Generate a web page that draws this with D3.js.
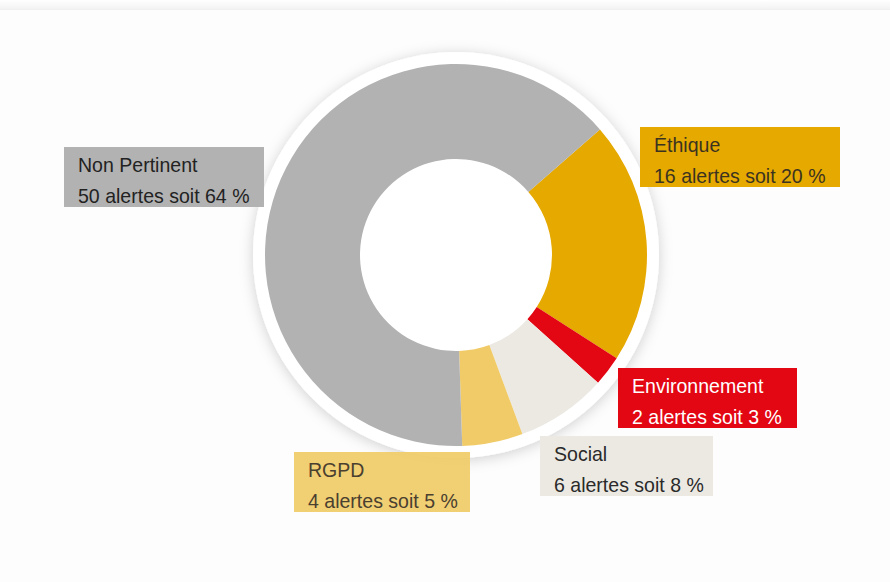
<!DOCTYPE html>
<html>
<head>
<meta charset="utf-8">
<script src="https://cdn.jsdelivr.net/npm/d3@7"></script>
<style>
  html, body { margin: 0; padding: 0; background: #fdfdfd; }
  #vis { width: 890px; height: 582px; }
  .lbl { font-family: "Liberation Sans Narrow", "Liberation Sans", Arial, sans-serif; font-size: 21px; }
</style>
</head>
<body>
<div id="vis"></div>
<script>
/* Data */
var categories = ["Éthique", "Environnement", "Social", "RGPD", "Non Pertinent"];
var alertes = [16, 2, 6, 4, 50];
var percents = [20, 3, 8, 5, 64];
var colors = ["#e6a900", "#e30613", "#ece9e3", "#f0cb68", "#b2b2b2"];
var textColors = ["#3b3320", "#ffffff", "#2a2a2a", "#4a4030", "#222222"];

/* label box layout (x, y of top-left, width) */
var boxes = [
    {x: 640, y: 127, w: 200},
    {x: 618, y: 368, w: 179},
    {x: 540, y: 436, w: 173},
    {x: 294, y: 452, w: 176},
    {x: 64, y: 147, w: 200}
];

var width = 890, height = 582,
    cx = 456, cy = 255,
    outer = 191, inner = 96, ring = 203;

var svg = d3.select('#vis').append('svg').attr('width', width).attr('height', height);

var defs = svg.append('defs');
var shadow = defs.append('filter').attr('id', 'shadow')
    .attr('x', '-20%').attr('y', '-20%').attr('width', '140%').attr('height', '140%');
shadow.append('feDropShadow')
    .attr('dx', 0).attr('dy', 2).attr('stdDeviation', 7)
    .attr('flood-color', '#000').attr('flood-opacity', 0.18);

var topGrad = defs.append('linearGradient').attr('id', 'topband')
    .attr('x1', 0).attr('y1', 0).attr('x2', 0).attr('y2', 1);
topGrad.append('stop').attr('offset', '0%').attr('stop-color', '#ffffff');
topGrad.append('stop').attr('offset', '100%').attr('stop-color', '#f3f3f3');

/* top band */
svg.append('rect').attr('x', 0).attr('y', 0).attr('width', width).attr('height', 9)
    .attr('fill', 'url(#topband)');
svg.append('rect').attr('x', 0).attr('y', 9).attr('width', width).attr('height', 1)
    .attr('fill', '#f0f0f0');

var chart = svg.append('g').attr('transform', 'translate(' + cx + ',' + cy + ')');

/* white ring with shadow */
chart.append('circle').attr('r', ring).attr('fill', '#ffffff').attr('filter', 'url(#shadow)');

var startAngle = 48.9 * Math.PI / 180;
var pie = d3.pie().sort(null)
    .startAngle(startAngle).endAngle(startAngle + 2 * Math.PI)
    .value(function (d) { return d; });
var arc = d3.arc().innerRadius(inner).outerRadius(outer);

chart.selectAll('path.slice')
    .data(pie(alertes))
    .enter().append('path')
    .attr('class', 'slice')
    .attr('d', arc)
    .attr('fill', function (d, i) { return colors[i]; });

/* labels */
var labels = svg.append('g').selectAll('g')
    .data(categories)
    .enter().append('g')
    .attr('transform', function (d, i) { return 'translate(' + boxes[i].x + ',' + boxes[i].y + ')'; });

labels.append('rect')
    .attr('width', function (d, i) { return boxes[i].w; })
    .attr('height', 60)
    .attr('fill', function (d, i) { return colors[i]; })
    .attr('fill-opacity', function (d, i) { return i === 3 ? 0.93 : 1; });

labels.append('text').attr('class', 'lbl')
    .attr('x', 14).attr('y', 25)
    .attr('fill', function (d, i) { return textColors[i]; })
    .text(function (d) { return d; });

labels.append('text').attr('class', 'lbl')
    .attr('x', 14).attr('y', 56)
    .attr('fill', function (d, i) { return textColors[i]; })
    .text(function (d, i) { return alertes[i] + ' alertes soit ' + percents[i] + ' %'; });

// condense the text (narrow font look)
svg.selectAll('text.lbl').each(function () {
    var w = this.getComputedTextLength();
    d3.select(this).attr('textLength', w * 0.93).attr('lengthAdjust', 'spacingAndGlyphs');
});
</script>
</body>
</html>
